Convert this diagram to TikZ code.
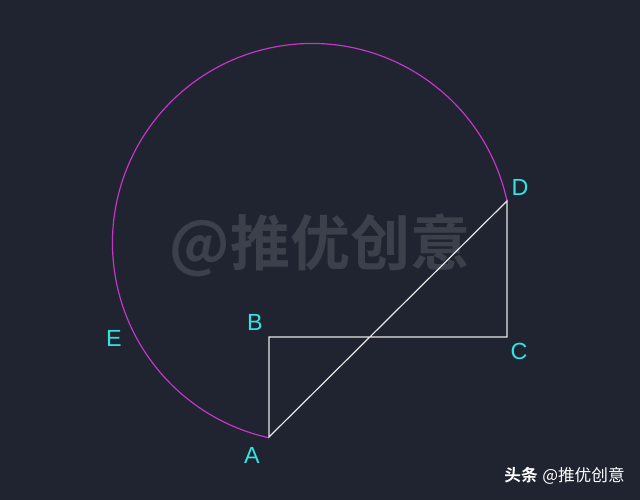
\documentclass[tikz,border=0pt]{standalone}
\usepackage{fontspec}
\setmainfont{Liberation Sans}
\newfontfamily\cjk{Noto Sans CJK SC}
\newfontfamily\cjkb{Noto Sans CJK SC Bold}
\definecolor{bgc}{HTML}{1F2430}
\definecolor{lblc}{HTML}{33E3E3}
\definecolor{arcc}{HTML}{C435C8}
\definecolor{linec}{HTML}{E6E6E6}
\definecolor{wmc}{HTML}{3C404A}
\definecolor{wmo}{HTML}{555963}
\begin{document}
\begin{tikzpicture}[x=0.75pt,y=0.75pt,
  lbl/.style={text=lblc,font=\fontsize{17.5}{20}\selectfont,inner sep=0pt},
  seg/.style={draw=linec,line width=0.9pt},
  arcline/.style={draw=arcc,line width=0.9pt}]
\fill[bgc] (0,0) rectangle (640,500);
\useasboundingbox (0,0) rectangle (640,500);
% watermark
\node[text=wmc,font=\cjkb\fontsize{45}{50}\selectfont,inner sep=0pt] (wm) at (320,255) {@推优创意};
% points
\coordinate (A) at (269,63);
\coordinate (B) at (269,163);
\coordinate (C) at (507,163);
\coordinate (D) at (507,299);
% arc
\draw[arcline] (D) arc[start angle=12.15, end angle=257.5, radius=199.5];
% lines
\draw[seg] (A) -- (B) -- (C) -- (D) -- cycle;
% labels
\node[lbl] (lD) at (520,313) {D};
\node[lbl] (lB) at (255,178) {B};
\node[lbl] (lC) at (519,149) {C};
\node[lbl] (lE) at (114,162) {E};
\node[lbl] (lA) at (252,45) {A};
% footer
\node[anchor=east,text=white,inner sep=0pt,font=\fontsize{12.5}{14}\selectfont] (ft) at (625,24) {{\cjkb 头条} {\cjk @推优创意}};
\end{tikzpicture}
\end{document}
